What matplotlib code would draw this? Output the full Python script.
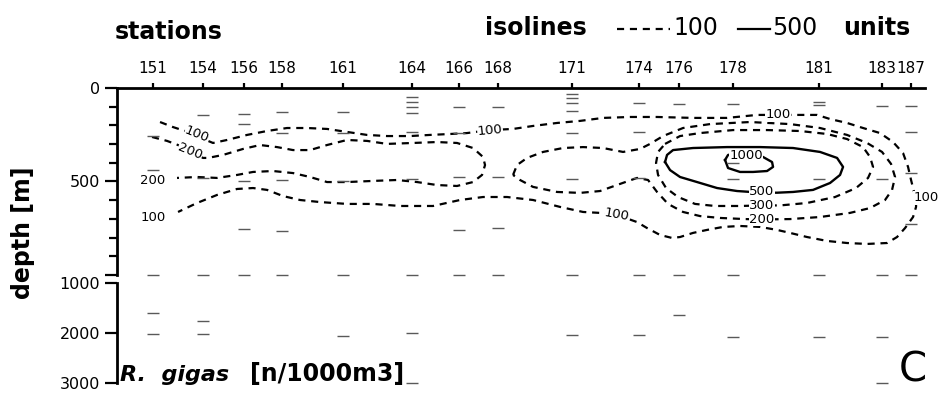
import numpy as np
import matplotlib.pyplot as plt
from matplotlib.lines import Line2D
from matplotlib.ticker import MultipleLocator

plt.rcParams['font.family'] = ['DejaVu Sans']

# stations along the section (distance along track, arbitrary units)
stations = [151, 154, 156, 158, 161, 164, 166, 168, 171, 174, 176, 178, 181, 183, 187]
station_dist = [153, 203, 244, 282, 343, 412, 459, 498, 572, 639, 679, 733, 819, 882, 911]

# sample depths (m) per station
samples = {
    151: [255, 440, 1000, 1600, 2020],
    154: [145, 480, 1000, 1760, 2020],
    156: [137, 193, 497, 754, 1000],
    158: [131, 240, 492, 765, 1000],
    161: [131, 241, 500, 1000, 2060],
    164: [50, 75, 102, 134, 235, 487, 1000, 2000, 3000],
    166: [102, 241, 476, 759, 1000],
    168: [102, 476, 749, 1000],
    171: [30, 55, 80, 123, 241, 487, 1000, 2040],
    174: [80, 235, 481, 1000, 2040],
    176: [86, 1000, 1640],
    178: [86, 401, 487, 1000, 2080],
    181: [75, 91, 487, 1000, 2080],
    183: [96, 487, 1000, 2080, 3000],
    187: [96, 235, 455, 727, 1000],
}

# isolines (distance, depth m)
iso100_x = [160, 173, 185, 197, 208, 213, 227, 247, 267, 287, 307, 327, 347, 367, 387,
            410, 430, 450, 467, 490, 513, 533, 557, 580, 603, 630, 657, 693, 727, 757,
            778, 800, 817, 830, 847, 863, 880, 893, 903, 908, 911, 914, 916, 916, 913,
            905, 897, 887, 867, 847, 827, 807, 790, 777, 760, 740, 723, 707, 693, 680,
            672, 660, 647, 637, 617, 600, 583, 560, 533, 507, 483, 460, 433, 400, 373,
            347, 320, 300, 283, 267, 253, 237, 217, 197, 178]
iso100_d = [182, 209, 230, 257, 283, 294, 278, 251, 230, 214, 214, 219, 235, 251, 257,
            257, 251, 246, 241, 225, 219, 203, 187, 176, 160, 155, 155, 160, 160, 144,
            144, 144, 144, 166, 187, 214, 241, 289, 348, 422, 492, 556, 599, 636, 690,
            749, 797, 829, 834, 829, 818, 797, 775, 759, 743, 738, 743, 759, 775, 797,
            802, 786, 749, 717, 679, 668, 663, 636, 599, 583, 583, 599, 631, 631, 620,
            620, 610, 599, 578, 545, 535, 540, 572, 615, 663]

iso200a_x = [152, 167, 178, 190, 203, 208, 223, 243, 260, 277, 293, 310, 327, 347, 367,
             387, 413, 437, 457, 473, 483, 485, 482, 473, 457, 437, 417, 397, 373, 347,
             327, 310, 293, 273, 253, 237, 217, 197, 177]
iso200a_d = [262, 283, 305, 342, 374, 374, 358, 326, 305, 316, 332, 332, 305, 278, 283,
             299, 294, 289, 294, 321, 369, 412, 465, 503, 524, 519, 503, 492, 497, 503,
             503, 476, 455, 444, 449, 465, 481, 476, 481]

iso200b_x = [513, 517, 527, 543, 563, 583, 603, 623, 640, 650, 663, 683, 710, 750, 790,
             820, 847, 867, 882, 891, 895, 892, 885, 870, 850, 820, 790, 762, 745, 720,
             700, 683, 668, 657, 648, 637, 620, 600, 580, 557, 533, 520, 513]
iso200b_d = [465, 412, 374, 342, 321, 316, 321, 342, 326, 299, 257, 214, 193, 182, 193,
             214, 251, 294, 342, 406, 476, 545, 599, 642, 668, 690, 701, 703, 701, 695,
             685, 663, 620, 556, 492, 481, 513, 551, 561, 556, 529, 492, 465]

iso300_x = [665, 680, 700, 733, 767, 800, 827, 847, 863, 870, 873, 868, 856, 835, 807,
            780, 762, 740, 715, 695, 678, 666, 658, 656, 658, 665]
iso300_d = [299, 257, 241, 225, 225, 230, 246, 273, 316, 369, 422, 481, 535, 583, 615,
            628, 628, 631, 631, 620, 583, 535, 465, 401, 342, 299]

iso500_x = [665, 667, 673, 693, 727, 760, 793, 820, 837, 843, 840, 830, 813, 793, 777,
            762, 737, 717, 697, 680, 670, 665]
iso500_d = [396, 358, 332, 321, 316, 316, 321, 342, 374, 422, 465, 508, 545, 556, 560,
            560, 551, 535, 503, 476, 439, 396]

iso1000_x = [725, 728, 740, 755, 763, 772, 773, 767, 753, 740, 728, 725]
iso1000_d = [385, 358, 348, 353, 369, 396, 422, 444, 449, 449, 428, 385]

iso_labels = [
    ("100", 197, 251, -22), ("100", 490, 225, 5), ("100", 778, 144, 0),
    ("100", 926, 588, 0), ("100", 617, 679, -10), ("100", 153, 690, 0),
    ("200", 190, 342, -22), ("200", 153, 497, 0), ("200", 762, 703, 0),
    ("300", 762, 628, 0), ("500", 762, 553, 0), ("1000", 746, 362, 0),
]

fig = plt.figure(figsize=(9.4, 3.93), dpi=100)
ax = fig.add_axes([0.1245, 0.3003, 0.8596, 0.4758])
axb = fig.add_axes([0.1245, 0.02545, 0.8596, 0.2545], sharex=ax)
ax.set_xlim(117, 925)
ax.set_ylim(1000, 0)
axb.set_ylim(3000, 1000)

dash = (0, (3.2, 2.6))
for xs, ds in [(iso100_x, iso100_d), (iso200a_x, iso200a_d),
               (iso200b_x, iso200b_d), (iso300_x, iso300_d)]:
    ax.plot(xs, ds, color='black', lw=1.6, ls=dash)
for xs, ds in [(iso500_x, iso500_d), (iso1000_x, iso1000_d)]:
    ax.plot(xs, ds, color='black', lw=1.7)

for txt, x, d, rot in iso_labels:
    ax.text(x, d, txt, ha='center', va='center', rotation=rot, fontsize=9.5,
            zorder=5, bbox=dict(boxstyle='square,pad=0.02', fc='white', ec='none'))

# sampling depths
for st, x in zip(stations, station_dist):
    dep = np.array(samples[st])
    up = dep[dep <= 1000]
    lo = dep[dep > 1000]
    ax.plot([x] * len(up), up, ls='none', marker='_', ms=8, mew=1.0,
            color='0.35', clip_on=False)
    axb.plot([x] * len(lo), lo, ls='none', marker='_', ms=8, mew=1.0,
             color='0.35', clip_on=False)

# axes styling
for a in (ax, axb):
    for s in ('right', 'bottom'):
        a.spines[s].set_visible(False)
    a.spines['left'].set_linewidth(2)
ax.spines['top'].set_linewidth(2)
axb.spines['top'].set_visible(False)

ax.xaxis.tick_top()
ax.set_xticks(station_dist)
ax.set_xticklabels([str(s) for s in stations])
ax.tick_params(axis='x', direction='out', length=3.5, width=1.6, pad=5, labelsize=11)
axb.tick_params(axis='x', bottom=False, top=False, labelbottom=False, labeltop=False)

ax.set_yticks([0, 500, 1000])
ax.set_yticklabels(['0', '500', ''])
ax.yaxis.set_minor_locator(MultipleLocator(100))
ax.tick_params(axis='y', which='major', length=9, width=1.6, pad=3, labelsize=11.5)
ax.tick_params(axis='y', which='minor', length=6, width=1.6)
axb.set_yticks([1000, 2000, 3000])
axb.set_yticklabels(['1000', '2000', '3000'])
axb.tick_params(axis='y', which='major', length=9, width=1.6, pad=3, labelsize=11.5)

# header texts
fig.text(0.1223, 0.9008, 'stations', fontsize=17, fontweight='bold', va='baseline')
fig.text(0.516, 0.911, 'isolines', fontsize=17, fontweight='bold', va='baseline')
fig.text(0.716, 0.911, '100', fontsize=17, va='baseline')
fig.text(0.821, 0.911, '500', fontsize=17, va='baseline')
fig.text(0.897, 0.911, 'units', fontsize=17, fontweight='bold', va='baseline')
fig.add_artist(Line2D([0.656, 0.713], [0.926, 0.926], color='black', lw=1.6,
                      ls=(0, (3.2, 2.6)), transform=fig.transFigure))
fig.add_artist(Line2D([0.785, 0.819], [0.926, 0.926], color='black', lw=1.6,
                      transform=fig.transFigure))

fig.text(0.0245, 0.407, 'depth [m]', fontsize=17, fontweight='bold', rotation=90,
         ha='center', va='center')
fig.text(0.128, 0.0305, 'R.  gigas', fontsize=16, fontweight='bold', style='italic',
         va='baseline')
fig.text(0.266, 0.0305, '[n/1000m3]', fontsize=17, fontweight='bold', va='baseline')
fig.text(0.956, 0.028, 'C', fontsize=29, va='baseline')

fig.savefig('out.png', dpi=100)
